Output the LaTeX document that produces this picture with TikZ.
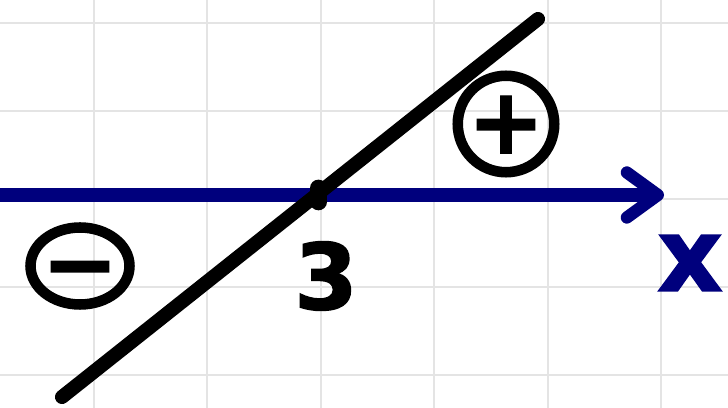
\documentclass[tikz,border=0pt]{standalone}
\usepackage{fontspec}
\usepackage{tikz}
\usetikzlibrary{arrows.meta,shapes.geometric,calc}
\newfontfamily\handfont{DejaVu Sans Bold}[FakeBold=1.5]
\definecolor{axisblue}{RGB}{0,0,125}
\definecolor{gridgray}{RGB}{228,228,228}
\newcommand{\signtext}[1]{\makebox[0pt]{\raisebox{-0.32em}[0pt][0pt]{#1}}}

\begin{document}
\begin{tikzpicture}[x=0.02cm, y=-0.02cm,
    gridline/.style={gridgray, line width=1.2pt},
    axisline/.style={axisblue, line width=8pt,
        -{Straight Barb[length=0.62cm, width=0.9cm, line width=7pt, round]}},
    graphline/.style={black, line width=8pt, line cap=round},
    signnode/.style={draw, line width=6pt, inner sep=0pt, font=\handfont\fontsize{52}{52}\selectfont},
    labelnode/.style={inner sep=0pt, font=\handfont}
]
    \useasboundingbox (0,0) rectangle (728,408);

    % grid
    \foreach \gx in {94,207.4,320.8,434.2,547.6,661} {
        \draw[gridline] (\gx,0) -- (\gx,408);
    }
    \foreach \gy in {23,111,199,287,375} {
        \draw[gridline] (0,\gy) -- (728,\gy);
    }

    \coordinate (ax0) at (0,195);
    \coordinate (ax1) at (664,195);
    \coordinate (lA) at (62,397);
    \coordinate (lB) at (538,19);
    \coordinate (root) at (intersection of ax0--ax1 and lA--lB);

    \draw[axisline] (ax0) -- (ax1);
    \draw[graphline] (lA) -- (lB);
    \draw[black, line width=9.5pt, line cap=round] ($(root)+(2,-7)$) -- ($(root)+(2,7)$);

    \node[labelnode, font=\handfont\fontsize{52}{52}\selectfont] (three) at (326,276) {3};
    \node[labelnode, axisblue, font=\handfont\fontsize{58}{58}\selectfont] (xlabel) at (690,263) {x};

    \node[signnode, ellipse, minimum width=1.98cm, minimum height=1.54cm] (minus) at (80,266) {\signtext{−}};
    \node[signnode, circle, minimum size=1.93cm] (plus) at (506,124) {\signtext{+}};
\end{tikzpicture}
\end{document}
